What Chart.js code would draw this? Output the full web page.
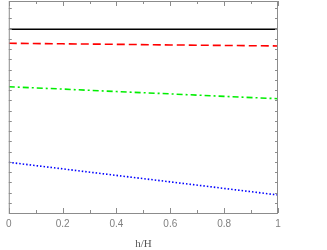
<!DOCTYPE html>
<html>
<head>
<meta charset="utf-8">
<script src="https://cdn.jsdelivr.net/npm/chart.js@4/dist/chart.umd.min.js"></script>
<style>
  html, body { margin: 0; padding: 0; background: #fff; }
  #wrap { width: 327px; height: 250px; }
</style>
</head>
<body>
<div id="wrap"><canvas id="myChart" width="327" height="250"></canvas></div>
<script>
// Datos (unidades arbitrarias en el eje y, sin etiquetas)
const hH = [0, 0.2, 0.4, 0.6, 0.8, 1];
const serieNegra = [17.94, 17.94, 17.94, 17.94, 17.94, 17.94];
const serieRoja = [16.57, 16.52, 16.47, 16.41, 16.36, 16.31];
const serieVerde = [12.33, 12.10, 11.86, 11.63, 11.39, 11.16];
const serieAzul = [4.95, 4.31, 3.67, 3.04, 2.40, 1.76];
const xTicks = [0, 0.2, 0.4, 0.6, 0.8, 1];
const yMin = 0, yMax = 20.7;

function toPoints(ys) {
    return hH.map((x, i) => ({ x: x, y: ys[i] }));
}

// Marco con marcas hacia dentro (estilo Mathematica)
const framePlugin = {
    id: 'frame',
    afterDatasetsDraw(chart) {
        const { ctx, chartArea: a, scales } = chart;
        ctx.save();
        ctx.strokeStyle = '#8c8c8c';
        ctx.lineWidth = 1;
        ctx.strokeRect(a.left + 0.5, a.top + 0.5, a.right - a.left - 1, a.bottom - a.top);
        ctx.beginPath();
        for (let v = 0; v <= 10; v++) {
            const px = Math.round(scales.x.getPixelForValue(v / 10)) + 0.5;
            const len = v % 2 === 0 ? 5 : 3;
            ctx.moveTo(px, a.bottom); ctx.lineTo(px, a.bottom - len);
            ctx.moveTo(px, a.top); ctx.lineTo(px, a.top + len);
        }
        for (let v = 1; v <= 20; v++) {
            const py = Math.round(scales.y.getPixelForValue(v)) + 0.5;
            ctx.moveTo(a.left, py); ctx.lineTo(a.left + 3, py);
            ctx.moveTo(a.right, py); ctx.lineTo(a.right - 3, py);
        }
        ctx.stroke();
        ctx.restore();
    }
};

const ctx = document.getElementById('myChart').getContext('2d');
const myChart = new Chart(ctx, {
    type: 'line',
    data: {
        datasets: [
            { data: toPoints(serieNegra), borderColor: '#000000', borderWidth: 1.6, pointRadius: 0, tension: 0, fill: false },
            { data: toPoints(serieRoja), borderColor: '#ff0000', borderWidth: 1.6, borderDash: [8, 4], pointRadius: 0, tension: 0, fill: false },
            { data: toPoints(serieVerde), borderColor: '#00ee00', borderWidth: 1.6, borderDash: [6, 3, 2, 3], pointRadius: 0, tension: 0, fill: false },
            { data: toPoints(serieAzul), borderColor: '#0000ff', borderWidth: 1.6, borderDash: [1.5, 2], pointRadius: 0, tension: 0, fill: false }
        ]
    },
    options: {
        responsive: false,
        animation: false,
        layout: { padding: { left: 3, right: 49, top: 1, bottom: 0 } },
        plugins: { legend: { display: false }, tooltip: { enabled: false } },
        scales: {
            x: {
                type: 'linear',
                min: 0,
                max: 1,
                afterBuildTicks: (axis) => { axis.ticks = xTicks.map(v => ({ value: v })); },
                ticks: {
                    color: '#808080',
                    font: { family: 'Liberation Sans', size: 10, lineHeight: 1 },
                    padding: 6,
                    maxRotation: 0,
                    autoSkip: false,
                    callback: (v) => String(Math.round(v * 10) / 10)
                },
                grid: { display: false, drawTicks: false },
                border: { display: false },
                title: {
                    display: true,
                    text: 'h/H',
                    color: '#555555',
                    font: { family: 'Liberation Serif', size: 11, lineHeight: 1 },
                    padding: { top: 4, bottom: 0 }
                }
            },
            y: {
                type: 'linear',
                min: yMin,
                max: yMax,
                display: false
            }
        }
    },
    plugins: [framePlugin]
});
</script>
</body>
</html>
